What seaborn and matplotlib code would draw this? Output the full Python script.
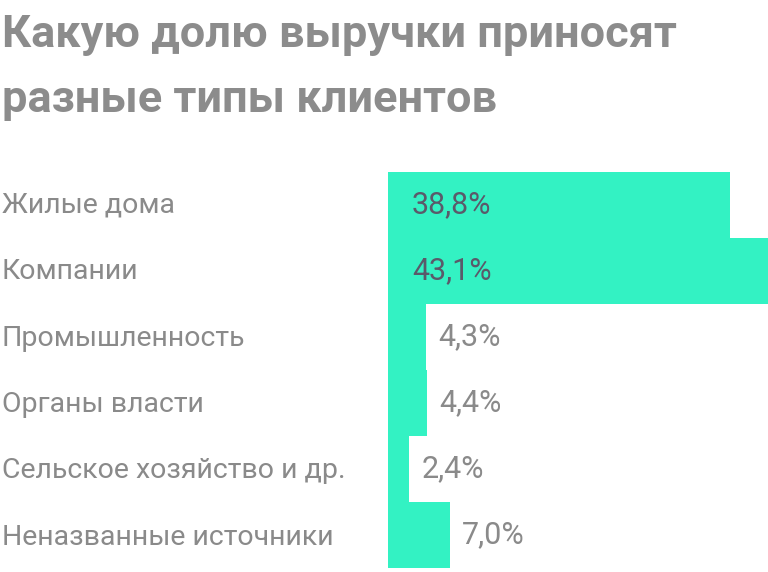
import matplotlib
matplotlib.use("Agg")
import matplotlib.pyplot as plt
import seaborn as sns
import pandas as pd

categories = ["Жилые дома", "Компании", "Промышленность", "Органы власти",
              "Сельское хозяйство и др.", "Неназванные источники"]
values = [38.8, 43.1, 4.3, 4.4, 2.4, 7.0]
labels = ["38,8%", "43,1%", "4,3%", "4,4%", "2,4%", "7,0%"]

df = pd.DataFrame({"cat": categories, "val": values})
sns.set_theme(style="white")
plt.rcParams['font.family'] = ['Roboto', 'DejaVu Sans']

fig = plt.figure(figsize=(7.68, 5.72), dpi=100)
ax = fig.add_axes([388/768, 4/572, 380/768, 396/572])
sns.barplot(data=df, x="val", y="cat", color="#33F2C3", width=1.0, ax=ax,
            saturation=1, edgecolor="none")
ax.set_xlim(0, 43.1)
ax.set_ylim(5.5, -0.5)
ax.set_xlabel(""); ax.set_ylabel("")
ax.set_xticks([]); ax.set_yticks([])
for s in ax.spines.values():
    s.set_visible(False)

pxu = 43.1 / 380
for i, (v, l, c) in enumerate(zip(values, labels, categories)):
    if v > 20:
        ax.text(24 * pxu, i, l, va="center", ha="left", fontsize=22, color="#5a5a6a")
    else:
        ax.text(v + 12 * pxu, i, l, va="center", ha="left", fontsize=22, color="#8a8a8a")
    fig.text(2/768, 1 - (205 + 66.5 * i) / 572, c, va="center", ha="left",
             fontsize=20.5, color="#8a8a8a")

fig.text(2/768, 1 - 35/572, "Какую долю выручки приносят", fontsize=32.5,
         fontweight="bold", color="#8c8c8c", va="center", ha="left")
fig.text(2/768, 1 - 100/572, "разные типы клиентов", fontsize=32.5,
         fontweight="bold", color="#8c8c8c", va="center", ha="left")

fig.savefig("out.png", dpi=100)
